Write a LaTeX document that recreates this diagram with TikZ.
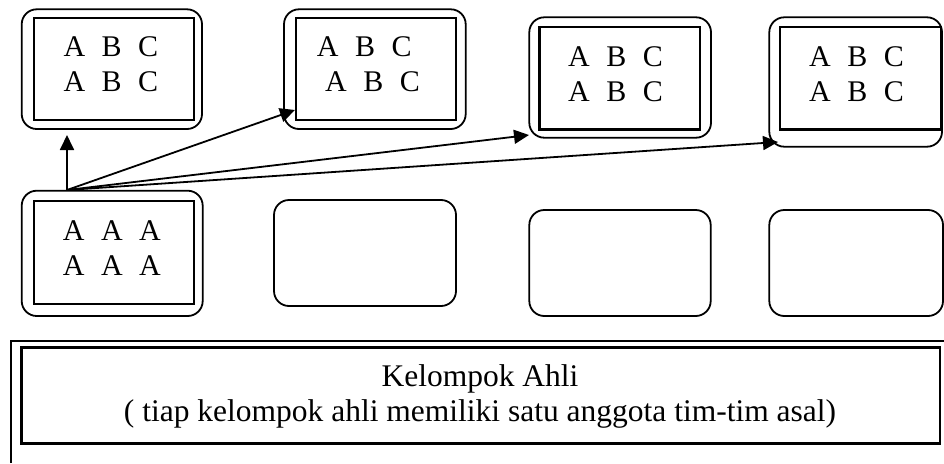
\documentclass[tikz,border=0pt]{standalone}
\usepackage{fontspec}
\setmainfont{Liberation Serif}
\usetikzlibrary{arrows.meta,fit}
% wide interword spacing for the letter rows
\newcommand\letterrowfont{\fontsize{30}{35}\selectfont\spaceskip 16.5pt\relax}

\begin{document}
\begin{tikzpicture}[x=1pt,y=-1pt,
  outerbox/.style={draw, line width=1.8pt, rounded corners=15pt, inner sep=0pt},
  innerbox/.style={draw, line width=2.4pt, inner sep=0pt},
  letters/.style={anchor=base west, inner sep=0pt, font=\letterrowfont},
  caption/.style={anchor=base, inner sep=0pt, font=\fontsize{31.5}{35}\selectfont},
  arr/.style={line width=1.8pt, -{Triangle[length=15pt,width=14pt]}},
  frame/.style={line width=2pt}
]
\useasboundingbox (0,0) rectangle (944,463);

% top row: home teams
\node[outerbox, fit={(21.7,9.3) (202,129)}] (g1o) {};
\node[innerbox, fit={(34,17.7) (194,120)}] (g1i) {};
\node[letters] (g1a) at (63.3,56.7) {A B C};
\node[letters] (g1b) at (63.3,91.7) {A B C};

\node[outerbox, fit={(284,9.3) (465.7,129)}] (g2o) {};
\node[innerbox, fit={(295.7,17.7) (455.7,120)}] (g2i) {};
\node[letters] (g2a) at (316.7,56.7) {A B C};
\node[letters] (g2b) at (325,91.7) {A B C};

\node[outerbox, fit={(529.3,17.3) (711,137.7)}] (g3o) {};
\node[innerbox, fit={(539.3,26.7) (700,129.3)}] (g3i) {};
\node[letters] (g3a) at (568,66) {A B C};
\node[letters] (g3b) at (568,101.7) {A B C};

\node[outerbox, fit={(769.3,17.3) (942,146.7)}] (g4o) {};
\node[innerbox, fit={(780,26.7) (940.7,129.3)}] (g4i) {};
\node[letters] (g4a) at (809,66) {A B C};
\node[letters] (g4b) at (809,101.7) {A B C};

% bottom row: expert groups
\node[outerbox, fit={(21.7,190.7) (202.7,316)}] (e1o) {};
\node[innerbox, fit={(34,200.7) (194,304)}] (e1i) {};
\node[letters] (e1a) at (62.7,240) {A A A};
\node[letters] (e1b) at (62.7,275) {A A A};

\node[outerbox, fit={(274,200) (456,306)}] (e2o) {};
\node[outerbox, fit={(529.3,210) (710.7,316)}] (e3o) {};
\node[outerbox, fit={(769.3,210) (943,316)}] (e4o) {};

% members moving out of the expert group
\coordinate (src) at (67,190);
\coordinate (t1) at (67,135);
\coordinate (t2) at (295,110);
\coordinate (t3) at (529,135);
\coordinate (t4) at (778,142);
\draw[arr] (src) -- (t1);
\draw[arr] (src) -- (t2);
\draw[arr] (src) -- (t3);
\draw[arr] (src) -- (t4);

% caption panel
\draw[frame] (10.7,463) -- (10.7,341) -- (944,341);
\node[innerbox, fit={(21.3,347.3) (940,443.3)}] (cap) {};
\node[caption] (cap1) at (480,386) {Kelompok Ahli};
\node[caption] (cap2) at (480,421) {( tiap kelompok ahli memiliki satu anggota tim-tim asal)};
\end{tikzpicture}
\end{document}
